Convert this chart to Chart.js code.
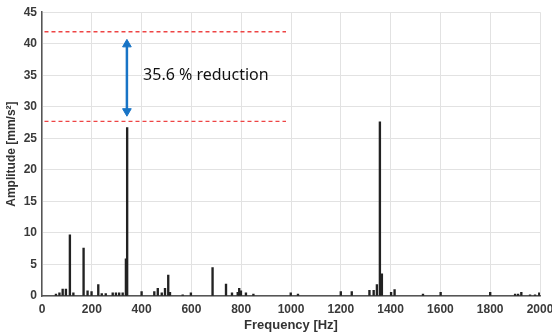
<!DOCTYPE html>
<html>
<head>
<meta charset="utf-8">
<script src="https://cdn.jsdelivr.net/npm/chart.js@4.4.1/dist/chart.umd.min.js"></script>
<style>
  html, body { margin: 0; padding: 0; background: #ffffff; }
  #wrap { width: 552px; height: 335px; }
</style>
</head>
<body>
<div id="wrap"><canvas id="c" width="552" height="335"></canvas></div>
<script>
// Spectrum peaks (Hz) and amplitudes (mm/s^2)
const freqs = [56, 70, 83, 96, 112, 126, 167, 183, 199, 226, 240, 256, 284, 297, 310, 324, 337, 342,
  400, 451, 465, 481, 494, 507, 514, 565, 598, 685, 739, 763, 786, 792, 799, 819, 849,
  999, 1028, 1200, 1244, 1315, 1332, 1345, 1357, 1365, 1402, 1416, 1530, 1601, 1800,
  1900, 1912, 1925, 1960, 1980, 1997];
const amps = [0.3, 0.5, 1.1, 1.1, 9.7, 0.5, 7.6, 0.8, 0.7, 1.8, 0.4, 0.4, 0.5, 0.5, 0.5, 0.5, 5.9, 26.7,
  0.7, 0.7, 1.2, 0.5, 1.2, 3.3, 0.6, 0.2, 0.5, 4.5, 1.9, 0.5, 0.6, 1.2, 0.8, 0.5, 0.3,
  0.5, 0.3, 0.7, 0.7, 0.9, 0.9, 1.8, 27.6, 3.5, 0.6, 1.0, 0.3, 0.6, 0.6,
  0.3, 0.3, 0.6, 0.2, 0.2, 0.5];

// Reference levels (before / after) and annotation
const refLevels = [41.9, 27.7];
const refRange = [10, 980];
const arrowFreq = 341;
const arrowRange = [29.3, 39.9];
const annotationText = "35.6 % reduction";
const annotationPos = [406, 35];

const xTicks = [0, 200, 400, 600, 800, 1000, 1200, 1400, 1600, 1800, 2000];
const yTicks = [0, 5, 10, 15, 20, 25, 30, 35, 40, 45];

const spectrum = freqs.map((f, i) => ({ x: f, y: amps[i] }));

const refDatasets = refLevels.map(v => ({
  type: 'line',
  data: [{ x: refRange[0], y: v }, { x: refRange[1], y: v }],
  borderColor: '#ee4444',
  borderWidth: 1.3,
  borderDash: [4, 3],
  pointRadius: 0,
  fill: false,
  order: 0
}));

const arrowDataset = {
  type: 'line',
  data: [{ x: arrowFreq, y: arrowRange[1] }, { x: arrowFreq, y: arrowRange[0] }],
  borderColor: '#1874c6',
  backgroundColor: '#1874c6',
  borderWidth: 2.5,
  pointStyle: 'triangle',
  pointRadius: 5,
  pointRotation: [0, 180],
  pointBorderWidth: 1,
  fill: false,
  order: 0
};

const textPlugin = {
  id: 'textAnno',
  afterDatasetsDraw(chart) {
    const { ctx, scales } = chart;
    const x = scales.x.getPixelForValue(annotationPos[0]);
    const y = scales.y.getPixelForValue(annotationPos[1]);
    ctx.save();
    ctx.font = '16px "Noto Sans", "Open Sans", sans-serif';
    ctx.fillStyle = '#111';
    ctx.textAlign = 'left';
    ctx.textBaseline = 'middle';
    ctx.fillText(annotationText, x, y);
    ctx.restore();
  }
};

const tickFont = { family: '"Liberation Sans", Arial, sans-serif', size: 12, weight: 'bold' };

new Chart(document.getElementById('c'), {
  type: 'bar',
  data: {
    datasets: [
      {
        type: 'bar',
        data: spectrum,
        backgroundColor: '#222222',
        borderWidth: 0,
        barThickness: 1.7,
        order: 2
      },
      ...refDatasets,
      arrowDataset
    ]
  },
  options: {
    responsive: false,
    animation: false,
    events: [],
    layout: { padding: { top: 9, right: 12, left: 0, bottom: 0 } },
    plugins: { legend: { display: false }, tooltip: { enabled: false } },
    scales: {
      x: {
        type: 'linear',
        min: 0, max: 2000,
        offset: false,
        afterBuildTicks(s) { s.ticks = xTicks.map(v => ({ value: v })); },
        afterFit(s) { s.height = 39; s.paddingLeft = 0; s.paddingRight = 0; },
        grid: { color: '#e2e2e2', offset: false, drawTicks: false },
        border: { color: '#555', width: 1.5 },
        ticks: { font: tickFont, color: '#3a3a3a', padding: 6, maxRotation: 0, autoSkip: false,
                 callback: v => String(v) },
        title: {
          display: true, text: 'Frequency [Hz]', color: '#333',
          font: { family: '"Liberation Sans", Arial, sans-serif', size: 13, weight: 'bold' },
          padding: { top: 2, bottom: 2 }
        }
      },
      y: {
        min: 0, max: 45,
        afterBuildTicks(s) { s.ticks = yTicks.map(v => ({ value: v })); },
        afterFit(s) { s.width = 42; },
        grid: { color: '#e2e2e2', drawTicks: false },
        border: { color: '#555', width: 1.5 },
        ticks: { font: tickFont, color: '#3a3a3a', padding: 5, callback: v => String(v) },
        title: {
          display: true, text: 'Amplitude [mm/s²]', color: '#333',
          font: { family: '"Liberation Sans", Arial, sans-serif', size: 12, weight: 'bold' },
          padding: { top: 4, bottom: 2 }
        }
      }
    }
  },
  plugins: [textPlugin]
});
</script>
</body>
</html>
